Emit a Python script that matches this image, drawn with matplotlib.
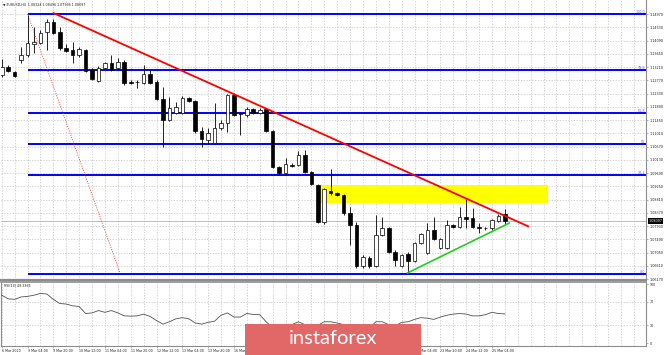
import matplotlib
matplotlib.use("Agg")
import matplotlib.pyplot as plt
import matplotlib.transforms as mtransforms
from matplotlib.patches import Rectangle
import numpy as np

# ---------------- data ----------------
OPEN = [1.1295, 1.1321, 1.1304, 1.1344, 1.1361, 1.1399, 1.1401, 1.1437, 1.1471, 1.1437,
        1.1384, 1.1378, 1.1361, 1.1378, 1.1311, 1.1275, 1.1318, 1.1334, 1.1318, 1.1338,
        1.1271, 1.1271, 1.1268, 1.1298, 1.1271, 1.1215, 1.1145, 1.1168, 1.1168, 1.1218,
        1.1208, 1.1109, 1.1079, 1.1069, 1.1119, 1.1135, 1.1228, 1.1168, 1.1162, 1.1182,
        1.1168, 1.1182, 1.1109, 1.0989, 1.0969, 1.0996, 1.0996, 1.1029, 1.0973, 1.0929,
        1.0807, 1.0909, 1.0903, 1.0896, 1.0836, 1.0797, 1.0660, 1.0687, 1.0660, 1.0763,
        1.0787, 1.0707, 1.0660, 1.0700, 1.0677, 1.0737, 1.0704, 1.0780, 1.0720, 1.0720,
        1.0797, 1.0790, 1.0823, 1.0820, 1.0790, 1.0787, 1.0787, 1.0810, 1.08324]
HIGH = [1.1348, 1.1328, 1.1308, 1.1388, 1.1494, 1.1454, 1.1444, 1.1480, 1.1480, 1.1454,
        1.1397, 1.1404, 1.1388, 1.1381, 1.1318, 1.1324, 1.1338, 1.1361, 1.1351, 1.1344,
        1.1278, 1.1278, 1.1328, 1.1311, 1.1278, 1.1255, 1.1221, 1.1205, 1.1225, 1.1221,
        1.1212, 1.1122, 1.1119, 1.1202, 1.1145, 1.1231, 1.1235, 1.1172, 1.1188, 1.1185,
        1.1185, 1.1185, 1.1112, 1.0992, 1.1019, 1.1002, 1.1042, 1.1046, 1.0976, 1.0933,
        1.0919, 1.0982, 1.0906, 1.0899, 1.0856, 1.0807, 1.0697, 1.0694, 1.0830, 1.0823,
        1.0790, 1.0714, 1.0700, 1.0707, 1.0740, 1.0770, 1.0803, 1.0823, 1.0753, 1.0813,
        1.0800, 1.0856, 1.0883, 1.0853, 1.0803, 1.0790, 1.0816, 1.0833, 1.08496]
LOW = [1.1288, 1.1304, 1.1288, 1.1334, 1.1354, 1.1368, 1.1397, 1.1378, 1.1431, 1.1378,
       1.1371, 1.1334, 1.1354, 1.1304, 1.1278, 1.1271, 1.1314, 1.1308, 1.1311, 1.1261,
       1.1265, 1.1251, 1.1265, 1.1265, 1.1212, 1.1056, 1.1142, 1.1165, 1.1165, 1.1205,
       1.1102, 1.1056, 1.1065, 1.1065, 1.1112, 1.1105, 1.1158, 1.1095, 1.1155, 1.1165,
       1.1165, 1.1105, 1.0986, 1.0963, 1.0963, 1.0989, 1.0992, 1.0969, 1.0929, 1.0803,
       1.0800, 1.0896, 1.0893, 1.0830, 1.0730, 1.0654, 1.0654, 1.0654, 1.0657, 1.0760,
       1.0704, 1.0660, 1.0657, 1.0636, 1.0674, 1.0734, 1.0700, 1.0747, 1.0717, 1.0717,
       1.0787, 1.0787, 1.0787, 1.0787, 1.0770, 1.0780, 1.0780, 1.0807, 1.07996]
CLOSE = [1.1321, 1.1308, 1.1291, 1.1361, 1.1401, 1.1404, 1.1434, 1.1471, 1.1434, 1.1384,
         1.1374, 1.1361, 1.1381, 1.1308, 1.1281, 1.1318, 1.1334, 1.1311, 1.1338, 1.1268,
         1.1269, 1.1270, 1.1298, 1.1268, 1.1215, 1.1145, 1.1185, 1.1188, 1.1218, 1.1208,
         1.1109, 1.1082, 1.1102, 1.1119, 1.1135, 1.1228, 1.1162, 1.1165, 1.1182, 1.1168,
         1.1178, 1.1109, 1.0989, 1.0969, 1.0999, 1.0994, 1.1029, 1.0973, 1.0933, 1.0807,
         1.0916, 1.0903, 1.0896, 1.0836, 1.0797, 1.0660, 1.0690, 1.0660, 1.0763, 1.0787,
         1.0707, 1.0680, 1.0697, 1.0677, 1.0737, 1.0767, 1.0780, 1.0750, 1.0750, 1.0797,
         1.0790, 1.0823, 1.0816, 1.0790, 1.0787, 1.0785, 1.0813, 1.0826, 1.08097]
RSI = [81, 75, 74, 78, 79, 81, 84, 83, 74, 67,
       66, 63, 62, 50, 51, 55, 52, 55, 51, 46,
       45.5, 46, 49, 45, 38, 32, 36, 41, 43, 41,
       34, 32, 35, 37, 47, 51, 44, 44, 50, 48.5,
       48, 36, 26, 25, 30, 31, 36, 31, 27, 30,
       36, 36, 34, 31, 28, 22, 25, 25, 36, 36,
       31, 29, 35, 36, 40, 43, 42, 40, 44, 47,
       49, 50, 49, 46, 46, 48, 52, 50, 49.34]

PRICE_TICKS = [1.14970, 1.14530, 1.14090, 1.13650, 1.13210, 1.12770, 1.12330, 1.11890,
               1.11450, 1.11010, 1.10570, 1.10130, 1.09690, 1.09250, 1.08810, 1.08370,
               1.07930, 1.07490, 1.07050, 1.06610, 1.06170]
TIME_LABELS = ["6 Mar 2020", "9 Mar 04:00", "9 Mar 20:00", "10 Mar 12:00", "11 Mar 04:00",
               "11 Mar 20:00", "12 Mar 12:00", "13 Mar 04:00", "13 Mar 20:00", "16 Mar 12:00",
               "17 Mar 04:00", "17 Mar 20:00", "18 Mar 12:00", "19 Mar 04:00", "19 Mar 20:00",
               "20 Mar 12:00", "23 Mar 04:00", "23 Mar 20:00", "24 Mar 12:00", "25 Mar 04:00"]
TIME_LABEL_BARS = [0, 4, 8, 12, 16, 20, 24, 28, 32, 36, 40, 44, 48, 52, 56, 60, 64, 68, 72, 76]

FIB_HIGH, FIB_LOW, FIB_START_BAR = 1.1497, 1.0634, 4
FIB_LEVELS = [100.0, 78.6, 61.8, 50.0, 38.2, 0.0]
FIB_NAMES = ["100.0", "78.6", "61.8", "50", "38.2", "0.0"]
RED_TREND = ([7.9, 81.75], [1.15013, 1.07908])
GREEN_TREND = ([62.8, 78.8], [1.06361, 1.08041])
FIB_DIAG = ([4.0, 18.3], [1.1497, 1.0640])
ZONE_BARS = (49.0, 84.7)
ZONE_PRICES = (1.08695, 1.09293)
BID = 1.08097
RSI_TICKS = [100, 70, 30, 0]
HEADER = "\u25bc EURUSD,H4  1.08324 1.08496 1.07996 1.08097"
RSI_NAME = "RSI(14) 49.3365"

# ---------------- figure ----------------
W, H = 665, 355
fig = plt.figure(figsize=(W / 100, H / 100), dpi=100)
fig.patch.set_facecolor("white")


def px_axes(x0, y0, x1, y1):
    return fig.add_axes([x0 / W, 1 - y1 / H, (x1 - x0) / W, (y1 - y0) / H])


ax = px_axes(1, 0, 646, 280)
ax2 = px_axes(1, 282, 646, 346)

XLIM = (-0.11, 99.89)
grid_kw = dict(color="#c4c4c4", lw=0.5, dashes=(2, 2), zorder=0)

n = len(OPEN)
x = np.arange(n)
o = np.array(OPEN); c = np.array(CLOSE); hi = np.array(HIGH); lo = np.array(LOW)

# grid
for gx in range(0, 100, 2):
    ax.axvline(gx, **grid_kw)
    ax2.axvline(gx, **grid_kw)
for p in PRICE_TICKS:
    ax.axhline(p, **grid_kw)
for r in (70, 30):
    ax2.axhline(r, **grid_kw)

# yellow zone
ax.add_patch(Rectangle((ZONE_BARS[0], ZONE_PRICES[0]), ZONE_BARS[1] - ZONE_BARS[0],
                       ZONE_PRICES[1] - ZONE_PRICES[0], facecolor="#ffff00",
                       edgecolor="none", zorder=1))

# bid line
ax.axhline(BID, color="#b4b4b4", lw=0.6, zorder=1.5)

# fib lines
fib_prices = [FIB_LOW + (FIB_HIGH - FIB_LOW) * lv / 100.0 for lv in FIB_LEVELS]
ax.hlines(fib_prices, FIB_START_BAR, XLIM[1], color="#0000ff", lw=1.4, zorder=2)
for fp, name in zip(fib_prices, FIB_NAMES):
    ax.text(XLIM[1] - 0.1, fp, name, fontsize=2.4, color="#6060ff",
            ha="right", va="bottom", zorder=8)
ax.plot(*FIB_DIAG, color="#ff3030", lw=0.6, ls=(0, (1.2, 1.6)), zorder=2)

# candles
ax.vlines(x, lo, hi, color="black", lw=0.6, zorder=3)
bull = c >= o
body_bottom = np.minimum(o, c)
body_h = np.maximum(np.abs(c - o), 0.00006)
ax.bar(x, body_h, bottom=body_bottom, width=0.56,
       color=np.where(bull, "white", "black"), edgecolor="black", lw=0.5, zorder=4)

# trend lines
ax.plot(*RED_TREND, color="#ff0000", lw=1.3, zorder=6, solid_capstyle="butt")
ax.plot(*GREEN_TREND, color="#22cc22", lw=1.2, zorder=6, solid_capstyle="butt")

ax.set_xlim(*XLIM)
ax.set_ylim(1.06139, 1.15435)
ax.set_xticks([])
ax.yaxis.tick_right()
ax.set_yticks(PRICE_TICKS)
ax.set_yticklabels([f"{p:.5f}" for p in PRICE_TICKS])
ax.tick_params(axis="y", labelsize=2.4, length=1.5, width=0.4, pad=1,
               color="#808080", labelcolor="#222222")
for s in ("top", "left"):
    ax.spines[s].set_visible(False)
ax.spines["right"].set_color("#8c8c8c")
ax.spines["right"].set_linewidth(0.8)
ax.spines["bottom"].set_color("#8c8c8c")
ax.spines["bottom"].set_linewidth(1.6)

# bid label box
trans = mtransforms.blended_transform_factory(ax.transAxes, ax.transData)
ax.text(1.004, BID, f"{BID:.5f}", transform=trans, fontsize=2.4, color="white",
        va="center", ha="left", clip_on=False, zorder=10,
        bbox=dict(facecolor="black", edgecolor="none", pad=0.5))

# RSI panel
ax2.plot(x, RSI, color="#505050", lw=0.6, zorder=3)
ax2.set_xlim(*XLIM)
ax2.set_ylim(-5.08, 103.4)
ax2.yaxis.tick_right()
ax2.set_yticks(RSI_TICKS)
ax2.set_yticklabels([str(t) for t in RSI_TICKS])
ax2.set_xticks(TIME_LABEL_BARS)
ax2.set_xticklabels(TIME_LABELS)
for lbl in ax2.get_xticklabels():
    lbl.set_ha("left")
ax2.tick_params(axis="both", labelsize=2.3, length=1.5, width=0.4, pad=1,
                color="#808080", labelcolor="#222222")
for s in ax2.spines.values():
    s.set_color("#8c8c8c")
    s.set_linewidth(0.8)
ax2.spines["top"].set_linewidth(1.2)

# header texts
fig.text(3 / W, 1 - 5 / H, HEADER, fontsize=2.3, va="center", ha="left", color="#222222")
fig.text(4 / W, 1 - 286 / H, RSI_NAME, fontsize=2.3, va="center", ha="left", color="#222222")

# watermark logo
fig.add_artist(Rectangle((245 / W, 0), 176 / W, 31 / H, transform=fig.transFigure,
                         facecolor="#e26868", edgecolor="none", zorder=20))
fig.text(333 / W, 1 - 344 / H, "instaforex", color="white", fontsize=14.5,
         family="Lato", ha="center", va="baseline", zorder=21)

fig.savefig("out.png", dpi=100, facecolor="white")
